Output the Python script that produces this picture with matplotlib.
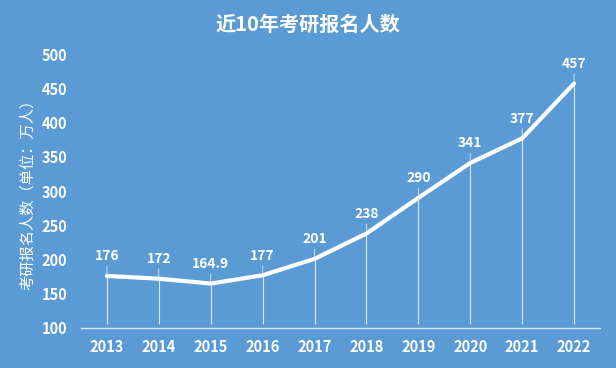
import matplotlib
matplotlib.use('Agg')
import matplotlib.pyplot as plt

plt.rcParams['font.family'] = ['Noto Sans CJK SC', 'DejaVu Sans']

years = ['2013', '2014', '2015', '2016', '2017', '2018', '2019', '2020', '2021', '2022']
counts = [176, 172, 164.9, 177, 201, 238, 290, 341, 377, 457]
labels = ['176', '172', '164.9', '177', '201', '238', '290', '341', '377', '457']

bg = '#5b9bd5'
fig = plt.figure(figsize=(6.16, 3.68), dpi=100, facecolor=bg)
ax = fig.add_axes([0.1315, 0.1087, 0.8425, 0.7443], facecolor=bg)

x = list(range(len(years)))
# drop lines
ax.vlines(x, 106, counts, color='#dce8f5', lw=0.8)
ax.plot(x, counts, color='white', lw=3, solid_capstyle='round', solid_joinstyle='round')

for i in x:
    ax.annotate(labels[i], (i, counts[i]), xytext=(0, 9), textcoords='offset points',
                ha='center', va='bottom', color='white', fontsize=10, fontweight='bold',
                arrowprops=dict(arrowstyle='-', color='#dce8f5', lw=0.6, shrinkA=0, shrinkB=1))

ax.set_xlim(-0.5, len(years) - 0.5)
ax.set_ylim(100, 500)
ax.set_xticks(x)
ax.set_xticklabels(years)
ax.set_yticks(range(100, 501, 50))
for s in ['top', 'right', 'left']:
    ax.spines[s].set_visible(False)
ax.spines['bottom'].set_color('#dce8f5')
ax.spines['bottom'].set_linewidth(1)
ax.tick_params(length=0, colors='white', labelsize=10.5, pad=8)
for t in ax.get_xticklabels() + ax.get_yticklabels():
    t.set_fontweight('bold')
ax.tick_params(axis='y', pad=10)
ax.set_ylabel('考研报名人数（单位：万人）', color='white', fontsize=11, labelpad=4)
fig.text(0.5, 0.935, '近10年考研报名人数', ha='center', va='center', color='white',
         fontsize=14.5, fontweight='bold')

fig.savefig('out.png', dpi=100, facecolor=bg)
